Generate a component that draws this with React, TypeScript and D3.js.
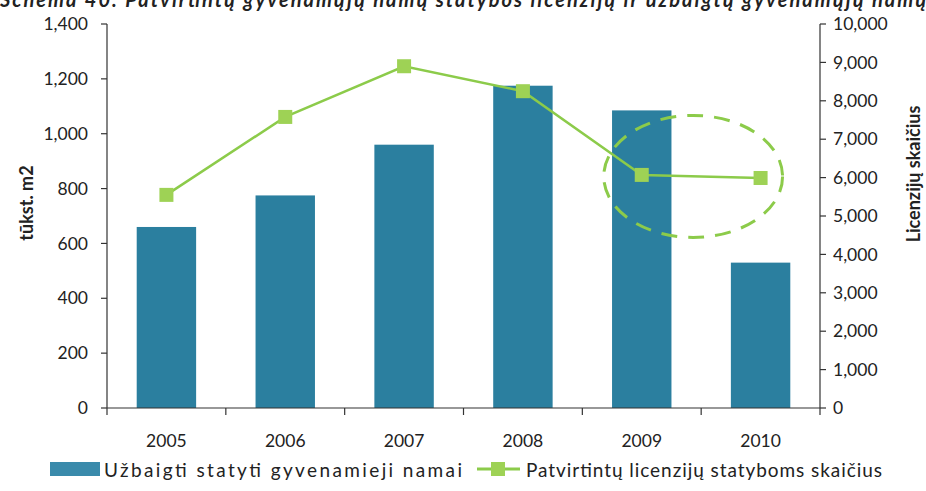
import React from "react";
import * as d3 from "d3";

const years = ["2005", "2006", "2007", "2008", "2009", "2010"];
const completedHomes = [660, 775, 960, 1175, 1085, 530];
const approvedLicences = [5550, 7580, 8900, 8250, 6070, 5990];
const leftTicks = [0, 200, 400, 600, 800, 1000, 1200, 1400];
const rightTicks = [0, 1000, 2000, 3000, 4000, 5000, 6000, 7000, 8000, 9000, 10000];
const barLabel = "Užbaigti statyti gyvenamieji namai";
const lineLabel = "Patvirtintų licenzijų statyboms skaičius";
const leftTitle = "tūkst. m2";
const rightTitle = "Licenzijų skaičius";
const titleText = "Schema 40. Patvirtintų gyvenamųjų namų statybos licenzijų ir užbaigtų gyvenamųjų namų";

const W = 926;
const H = 491;
const left = 107;
const right = 820;
const top = 24;
const bottom = 408;

const FONT = "Lato, 'Open Sans', sans-serif";
const BAR = "#2b7f9f";
const GREEN = "#8ccb4a";
const MARK = "#9ed255";

export default function App() {
  const x = d3.scaleBand<string>().domain(years).range([left, right]).paddingInner(0.5).paddingOuter(0.25);
  const yL = d3.scaleLinear().domain([0, 1400]).range([bottom, top]);
  const yR = d3.scaleLinear().domain([0, 10000]).range([bottom, top]);
  const fmt = d3.format(",");
  const step = x.step();
  const boundaries = d3.range(years.length + 1).map((i) => left + i * step);
  const pts: [number, number][] = years.map((yr, i) => [x(yr)! + x.bandwidth() / 2, yR(approvedLicences[i])]);
  const line = d3.line()(pts) || "";
  const ms = 14;

  const p9 = pts[4];
  const p10 = pts[5];
  const ecx = (p9[0] + p10[0]) / 2 - 8;
  const ecy = (p9[1] + p10[1]) / 2;
  const erx = (p10[0] - p9[0]) / 2 + 30;
  const ery = 61;

  return (
    <svg width={W} height={H} style={{ position: "absolute", left: 0, top: 0, background: "#fff" }} fontFamily={FONT}>
      <rect width={W} height={H} fill="#fff" />
      <text x={0} y={7} fontSize={20} fontWeight="bold" fontStyle="italic" fill="#222" textLength={926} lengthAdjust="spacing">
        {titleText}
      </text>

      {/* bars */}
      {years.map((yr, i) => (
        <rect key={yr} x={x(yr)} y={yL(completedHomes[i])} width={x.bandwidth()} height={bottom - yL(completedHomes[i])} fill={BAR} />
      ))}

      {/* left axis */}
      <line x1={left} x2={left} y1={top} y2={bottom} stroke="#333" strokeWidth={1.2} />
      {leftTicks.map((t) => (
        <g key={t}>
          <line x1={left - 6} x2={left} y1={yL(t)} y2={yL(t)} stroke="#333" strokeWidth={1.2} />
          <text x={88} y={yL(t)} dy="0.35em" textAnchor="end" fontSize={17.5} fill="#222">
            {fmt(t)}
          </text>
        </g>
      ))}

      {/* right axis */}
      <line x1={right} x2={right} y1={top} y2={bottom} stroke="#333" strokeWidth={1.2} />
      {rightTicks.map((t) => (
        <g key={t}>
          <line x1={right} x2={right + 6} y1={yR(t)} y2={yR(t)} stroke="#333" strokeWidth={1.2} />
          <text x={833} y={yR(t)} dy="0.35em" textAnchor="start" fontSize={17.5} fill="#222">
            {fmt(t)}
          </text>
        </g>
      ))}

      {/* x axis */}
      <line x1={left} x2={right} y1={bottom} y2={bottom} stroke="#333" strokeWidth={1.2} />
      {boundaries.map((b, i) => (
        <line key={i} x1={b} x2={b} y1={bottom} y2={bottom + 7} stroke="#333" strokeWidth={1.2} />
      ))}
      {years.map((yr) => (
        <text key={yr} x={x(yr)! + x.bandwidth() / 2} y={441} dy="0.35em" textAnchor="middle" fontSize={17.5} fill="#222">
          {yr}
        </text>
      ))}

      {/* axis titles */}
      <text transform={`translate(27,203) rotate(-90)`} textAnchor="middle" dy="0.35em" fontSize={18} fontWeight="bold" fill="#222">
        {leftTitle}
      </text>
      <text transform={`translate(914,174) rotate(-90)`} textAnchor="middle" dy="0.35em" fontSize={18} fontWeight="bold" fill="#222">
        {rightTitle}
      </text>

      {/* line series */}
      <path d={line} fill="none" stroke={GREEN} strokeWidth={2.5} />
      {pts.map(([px, py], i) => (
        <rect key={i} x={px - ms / 2} y={py - ms / 2} width={ms} height={ms} fill={MARK} />
      ))}

      {/* annotation ellipse */}
      <ellipse cx={ecx} cy={ecy} rx={erx} ry={ery} fill="none" stroke={GREEN} strokeWidth={3} strokeDasharray="16 11" />

      {/* legend */}
      <rect x={50} y={462} width={50} height={14} fill="#3a8aab" />
      <text x={104} y={470} dy="0.35em" fontSize={19} fill="#222" textLength={358} lengthAdjust="spacing">
        {barLabel}
      </text>
      <line x1={477} x2={520} y1={469} y2={469} stroke={GREEN} strokeWidth={3} />
      <rect x={491} y={462} width={14} height={14} fill={MARK} />
      <text x={526} y={470} dy="0.35em" fontSize={19} fill="#222" textLength={356} lengthAdjust="spacing">
        {lineLabel}
      </text>
    </svg>
  );
}
